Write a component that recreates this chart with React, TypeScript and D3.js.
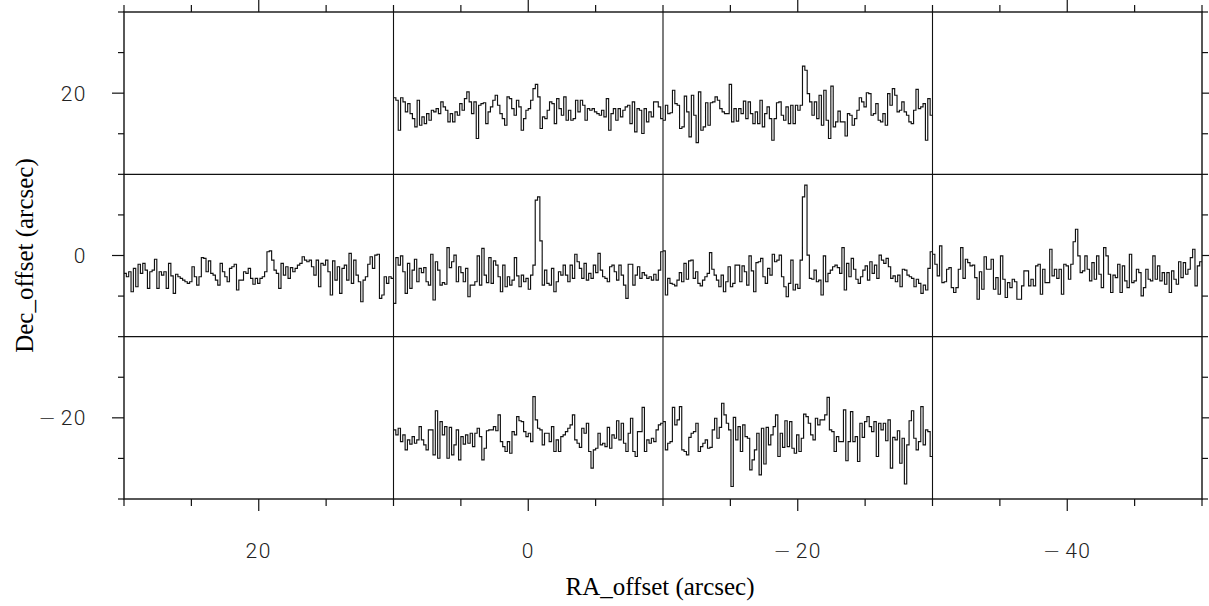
import React from "react";
import * as d3 from "d3";

// ---------- data (antenna temperature per channel, arbitrary K) ----------
const specDec20Ra0 = [
  1.5, 1.2, -2.4, 1.5, 1.0, -0.2, 0.8, -0.4, -1.0, -2.0,
  1.2, -1.8, -0.8, -1.6, -0.4, -1.2, 0, -0.2, 0.2, -0.4,
  1.0, 0.4, 0, -1.4, -0.4, -1.4, -0.2, -0.6, 0.8, 0,
  1.4, 2.2, 1.0, -0.4, 1.0, -3.4, 0.6, 0.8, 0.9, -1.6,
  -0.2, 0.4, 1.2, 1.8, 0.6, -0.4, -1.0, -1.8, 1.6, 1.4,
  0.2, -0.6, 1.2, 0.4, -2.4, -1.0, 0, 0.2, 1.2, 2.6,
  3.1, 1.6, -2.2, -0.8, -1.0, 0, 1.0, 0.8, -1.6, 1.4,
  0.2, -0.6, 1.6, -1.2, 0, -1.2, -1.0, 1.2, -0.2, 1.2,
  0.6, -1.2, 0.2, 0, 0.2, -0.2, -0.4, -0.6, 0, -0.8,
  1.4, -2.4, -0.4, 0.2, -1.2, 0.2, -0.8, 0, 0.4, 0.6,
  -1.6, 1.0, -2.6, 0.2, 0, -2.8, 0.2, -1.4, -0.2, -0.8,
  1.0, 1.0, 0.4, -1.0,
];
const specDec20RaM20 = [
  -1.2, 0.6, -0.4, -0.3, 2.4, 0.8, 0.6, -2.2, -2.0, 1.7,
  -0.2, -3.2, 1.8, -0.6, -3.9, 2.2, -2.4, -2.0, 0.9, -1.8,
  0.9, 1.0, 1.6, 1.2, 0.2, -0.2, -0.4, -0.4, 3.1, -1.4,
  0.2, -1.3, 0.2, -0.4, 1.1, -1.0, 1.0, -0.4, -1.6, -0.2,
  -1.6, 1.2, -2.0, -0.4, 0.4, -1.0, -3.6, -1.0, 0.9, 1.0,
  -0.6, -1.2, 0.4, -1.6, 0.6, -1.6, 0.6, 0, 0.6, 5.3,
  4.8, 2.0, 1.0, -0.6, 1.0, -1.0, 1.8, -1.8, 2.4, -1.2,
  -3.4, 2.9, -2.0, -1.4, -0.1, -1.4, -1.4, -3.1, -0.4, -0.6,
  -1.8, -1.0, 0, 1.5, 1.0, 0.4, 2.1, 2.0, -0.6, -0.4,
  0.8, -1.2, -1.4, -0.4, -1.8, 2.0, 0.6, 2.6, 1.8, -0.2,
  0, 1.0, -0.2, -0.6, -1.4, -1.6, 0, 2.5, 0.2, 0.4,
  0.8, -3.6, 1.4, -0.6,
];
const specDec0Ra20 = [
  -0.1, -0.5, 0.1, -2.3, 0.5, -1.7, 1.0, -0.1, 1.1, 0.3,
  -1.9, 0.1, 0.3, 1.6, -1.9, 0.1, -0.3, 0.1, -1.9, 1.1,
  -0.4, -2.5, -0.2, -0.5, -0.7, -0.9, -1.1, -1.3, -1.1, 0.7,
  -0.5, -1.5, -0.5, 1.8, 1.7, 0.1, 1.4, -0.1, -0.3, -0.9,
  -1.5, 1.1, 0.1, -0.5, -1.1, 0.5, 0.7, 1.0, -2.1, -0.9,
  -0.9, 0.1, -0.1, 0.5, -0.7, -1.4, -0.7, -1.3, -0.7, -0.5,
  0.1, 2.5, 2.6, 1.5, 0.3, -0.1, -1.9, 1.1, -0.3, 0.7,
  -0.7, 0.6, 0.1, 0.5, 0.9, 1.1, 1.9, 1.5, 1.3, 1.5,
  0.7, -0.3, 1.5, -1.7, 1.1, 0.9, 1.5, 0.1, -2.7, 1.4,
  -0.9, 0.7, -2.5, 0.5, 0.9, -0.9, 2.3, -1.3, 1.5, -0.3,
  -1.1, -3.5, -0.9, -0.5, 1.0, 1.9, 0.5, 2.1, 2.2, -3.1,
  -2.7, -0.5, -1.3, -0.5, -0.7,
];
const specDec0Ra0 = [
  -3.7, 1.8, 0.9, 2.0, 0.1, -2.5, 1.1, -1.9, 0.3, 1.6,
  -1.1, 0.5, 0, 0.6, -1.1, -1.5, 2.2, -3.3, 1.3, 0.3,
  -1.5, -1.2, -1.4, 3.0, 0.6, 1.3, 2.1, -1.1, 0.7, 0,
  -1.1, 0.5, -2.9, -1.5, -1.5, -1.1, 2.0, -1.5, 2.9, -0.3,
  -1.2, 1.8, -1.3, 1.4, 0.9, -0.5, -2.3, 0.9, -1.7, -0.5,
  -1.5, -0.9, 1.8, -0.4, -1.7, -0.3, -1.1, -0.7, -2.0, -0.3,
  0.9, 8.7, 9.1, 3.8, -1.5, 0.3, -1.3, -1.5, 0.5, -2.3,
  -1.1, 0.1, -0.3, 0.9, -0.3, -1.1, 0.9, -0.7, 2.2, 1.3,
  0.5, -0.7, 1.1, -0.9, -0.1, -0.7, 0.9, 0, 2.3, 0.3,
  -0.5, -0.7, -1.1, 0.7, 0.9, 0.1, -0.9, 0.9, -0.3, -1.5,
  -3.1, 1.0, 1.0, -1.5, -0.3, 0.7, -0.7, 0, -0.3, -0.7,
  -0.5, -0.9, -0.2, -0.9, 0.3, 2.5,
];
const specDec0RaM20 = [
  2.6, -2.7, -0.7, -1.3, -1.4, -1.6, -0.9, 0, -1.1, 1.1,
  -0.8, 1.4, 1.5, -0.7, 0.1, -1.3, -1.6, -0.9, -0.5, -0.1,
  2.4, 0.4, -0.3, -0.9, -1.7, -0.3, -2.3, -1.1, 0.7, -1.7,
  -1.3, 0.9, 0.9, -1.1, 0.8, 0.1, -1.5, 2.0, 0.2, -2.3,
  1.2, 1.3, 1.7, -0.5, -1.3, 0.5, -0.3, 2.2, 1.3, 1.5,
  2.1, -0.5, -1.7, -2.9, -1.3, 1.5, -2.1, -1.4, -1.9, 1.5,
  9.1, 10.5, 2.1, -0.7, -0.8, 0.3, -1.1, -0.9, -2.7, 2.0,
  -1.1, -0.1, 0.3, 0.7, 0.9, 0.6, -0.1, 3.0, -2.1, 1.1,
  -0.5, 1.7, 0.4, -0.8, -1.3, -0.5, 0.3, 0.8, -0.9, 1.3,
  -0.1, 0.9, -0.7, 2.1, 1.5, 1.1, 1.7, 0.7, -0.7, -0.4,
  -1.1, -0.3, -1.7, 0.4, 0.3, -0.3, -0.5, -0.7, -1.7, -0.8,
  -1.3, -2.5, -1.5, -2.1, 0.5, 2.5,
];
const specDec0RaM40 = [
  2.2, 1.0, -0.4, 3.2, -1.2, -1.1, 0.4, 0.6, -1.8, -2.4,
  -1.8, 0.4, 3.0, -0.7, 1.6, 1.2, 0.8, 0.9, -0.6, -3.2,
  0.1, -2.0, 1.9, 0.4, 0.4, 1.6, -2.0, -0.6, -2.6, 2.0,
  -0.8, -3.0, -1.2, -1.8, -0.8, -1.1, -3.2, -3.2, -1.6, 0.2,
  0.2, -1.6, -0.8, -1.6, 0.8, 1.0, -2.6, 0.4, -1.2, -1.2,
  2.8, -0.4, 0.4, -0.7, 0.4, -2.6, 1.0, 0.8, -0.8, 1.0,
  3.7, 5.2, 2.0, 0, 0.2, 2.0, 0.4, -1.0, 1.2, -0.8,
  2.0, -0.2, -1.8, 3.0, 2.0, -0.2, -2.4, -0.3, -0.6, 1.0,
  -2.4, 0.8, -1.0, -1.8, 2.2, -1.2, -1.0, 0.4, 0, -2.8,
  -1.8, 0.4, -0.8, -1.0, 2.0, -0.8, 0.8, -1.0, 0, -1.4,
  0, -2.4, 0.2, -0.8, -1.4, 1.3, -0.6, 1.2, -0.2, 0.4,
  1.8, 2.8, -1.6, 0.8, 1.3,
];
const specDecM20Ra0 = [
  0.6, 0, 0.8, -0.8, 0, -1.8, -0.6, -1.1, -0.2, -1.0,
  -0.6, 1.0, -0.6, -1.2, -1.8, 0.6, 0.6, -2.4, 2.9, -2.8,
  1.6, 0, 1.0, -2.8, 0.9, -2.4, -1.2, 0.6, -3.0, -0.2,
  -1.1, 0, -1.0, 0.2, -1.4, 0.2, 0.8, -0.2, -3.0, -1.6,
  0.5, 0.6, 0.6, 1.0, 0.5, 2.4, -0.8, -1.4, -2.0, -0.8,
  -2.2, 0.4, 0, 2.2, 1.7, 1.6, 0.4, -0.2, 0.2, -0.8,
  4.6, 1.8, 0.8, 0.6, -1.2, 0.2, 0.2, -0.8, 1.0, -2.0,
  -0.6, -2.0, -0.2, 0, 0.4, 0.8, 1.2, 2.4, -0.6, -1.0,
  -1.5, 0.8, 0.2, 1.4, -2.0, -4.0, -1.8, -1.6, 0.2, -1.2,
  -1.0, -1.4, 0.9, -1.6, 0, -0.4, 1.7, -0.6, 1.4, -1.0,
  -2.0, 0.2, 2.0, -2.0, -2.6, 0.4, 0.4, 3.3, -2.0, -0.6,
  -1.0, -0.4, -0.8, 0.6, 1.2, 1.4,
];
const specDecM20RaM20 = [
  1.6, -1.8, -1.0, -0.8, 3.3, 1.2, 1.8, 3.4, -1.8, -2.0,
  -2.4, -0.3, 0.2, 0.4, 1.4, -2.0, -1.4, -1.0, -0.6, -1.6,
  -1.5, 0.6, 2.0, -0.4, 0.9, 3.8, 2.4, 1.4, 0.6, -6.2,
  2.1, -0.6, 1.0, -2.0, 1.2, -0.2, -0.4, -4.2, -3.0, -1.8,
  0.2, -4.8, 0.8, -3.5, 0.9, -1.2, 0, 1.0, 2.4, -2.6,
  0.2, -1.5, 1.7, -1.4, 1.6, -1.6, -2.2, 0, -2.0, -0.4,
  2.5, 2.2, 1.4, 0, -0.6, 2.0, 1.2, 1.8, 1.8, 2.4,
  4.5, 0.6, 0.4, -2.0, -0.2, -0.8, -0.8, 3.0, -3.1, -0.8,
  2.8, -0.8, -0.2, -3.2, 1.4, -0.3, 1.6, 2.2, 1.0, 0.4,
  1.6, -2.6, 1.4, 0.6, 1.4, -0.7, 1.8, -4.0, -0.3, -0.6,
  0.5, -3.4, -0.4, -5.9, -1.2, 1.7, 2.9, -0.4, -1.8, -0.8,
  3.4, -1.2, 0.6, 0.4, -2.6,
];

// cell centre offsets (arcsec) of each spectrum
const raOffsets = [0, -20, 20, 0, -20, -40, 0, -20];
const decOffsets = [20, 20, 0, 0, 0, 0, -20, -20];
const spectra = [
  specDec20Ra0, specDec20RaM20,
  specDec0Ra20, specDec0Ra0, specDec0RaM20, specDec0RaM40,
  specDecM20Ra0, specDecM20RaM20,
];

// axes
const raDomain = [30, -50];
const decDomain = [30, -30];
const tDomain = [-7.7, 11.8]; // temperature range shown inside each box
const raGrid = [10, -10, -30];
const decGrid = [10, -10];
const raMajor = [20, 0, -20, -40];
const decMajor = [20, 0, -20];
const raTicks = d3.range(30, -50.1, -5);
const decTicks = d3.range(-30, 30.1, 5);

const W = 1209;
const H = 606;
const L = 124, R = 1202, T = 12, B = 499;

const tickFont = "Roboto, 'DejaVu Sans', sans-serif";
const minusFont = "'DejaVu Sans', sans-serif";

function TickLabel(props: { v: number; x: number; y: number; anchor: string }) {
  const { v, x, y, anchor } = props;
  return (
    <text
      x={x}
      y={y}
      textAnchor={anchor}
      fontFamily={tickFont}
      fontWeight={300}
      fontSize={21}
      letterSpacing={1.5}
      fill="#222"
    >
      {v < 0 ? (
        <tspan fontFamily={minusFont} fontWeight={200}>
          {"\u2212"}
        </tspan>
      ) : null}
      <tspan dx={v < 0 ? 3 : 0}>{String(Math.abs(v))}</tspan>
    </text>
  );
}

export default function App() {
  const x = d3.scaleLinear().domain(raDomain).range([L, R]);
  const y = d3.scaleLinear().domain(decDomain).range([T, B]);

  const paths = spectra.map((data, k) => {
    const ra = raOffsets[k];
    const dec = decOffsets[k];
    const cx = d3.scaleLinear().domain([0, data.length]).range([x(ra + 10), x(ra - 10)]);
    const cy = d3.scaleLinear().domain(tDomain).range([y(dec - 10), y(dec + 10)]);
    const pts: [number, number][] = data.map((v, i) => [i, v]);
    pts.push([data.length, data[data.length - 1]]);
    const line = d3
      .line<[number, number]>()
      .x((d) => cx(d[0]))
      .y((d) => cy(d[1]))
      .curve(d3.curveStepAfter);
    return line(pts) || "";
  });

  const stroke = "#111";
  const titleFont = "'Liberation Serif', 'Times New Roman', serif";

  return (
    <svg
      width={W}
      height={H}
      viewBox={`0 0 ${W} ${H}`}
      style={{ position: "absolute", left: 0, top: 0, background: "#fff" }}
    >
      <rect x={0} y={0} width={W} height={H} fill="#fff" />
      {/* grid between boxes */}
      {raGrid.map((v) => (
        <line key={"gx" + v} x1={x(v)} x2={x(v)} y1={T} y2={B} stroke={stroke} strokeWidth={1.1} />
      ))}
      {decGrid.map((v) => (
        <line key={"gy" + v} x1={L} x2={R} y1={y(v)} y2={y(v)} stroke={stroke} strokeWidth={1.1} />
      ))}
      {/* spectra */}
      {paths.map((p, i) => (
        <path key={"s" + i} d={p} fill="none" stroke={stroke} strokeWidth={1.15} />
      ))}
      {/* frame */}
      <rect x={L} y={T} width={R - L} height={B - T} fill="none" stroke={stroke} strokeWidth={1.4} />
      {/* x ticks bottom & top */}
      {raTicks.map((v) => {
        const major = raMajor.includes(v);
        const len = major ? 12 : 7;
        return (
          <g key={"xt" + v}>
            <line x1={x(v)} x2={x(v)} y1={B} y2={B + len} stroke={stroke} strokeWidth={1.2} />
            <line x1={x(v)} x2={x(v)} y1={T} y2={T - len} stroke={stroke} strokeWidth={1.2} />
          </g>
        );
      })}
      {decTicks.map((v) => {
        const major = decMajor.includes(v);
        const len = major ? 12 : 6;
        return (
          <g key={"yt" + v}>
            <line x1={L} x2={L - len} y1={y(v)} y2={y(v)} stroke={stroke} strokeWidth={1.2} />
            <line x1={R} x2={R + len} y1={y(v)} y2={y(v)} stroke={stroke} strokeWidth={1.2} />
          </g>
        );
      })}
      {/* tick labels */}
      {raMajor.map((v) => (
        <TickLabel key={"xl" + v} v={v} x={x(v)} y={558} anchor="middle" />
      ))}
      {decMajor.map((v) => (
        <TickLabel key={"yl" + v} v={v} x={87} y={y(v) + 7.5} anchor="end" />
      ))}
      {/* axis titles */}
      <text x={(L + R) / 2 - 3} y={595} textAnchor="middle" fontFamily={titleFont} fontSize={25} fill="#000">
        RA_offset (arcsec)
      </text>
      <text
        transform={`translate(33, ${(T + B) / 2}) rotate(-90)`}
        textAnchor="middle"
        fontFamily={titleFont}
        fontSize={25}
        fill="#000"
      >
        Dec_offset (arcsec)
      </text>
    </svg>
  );
}
